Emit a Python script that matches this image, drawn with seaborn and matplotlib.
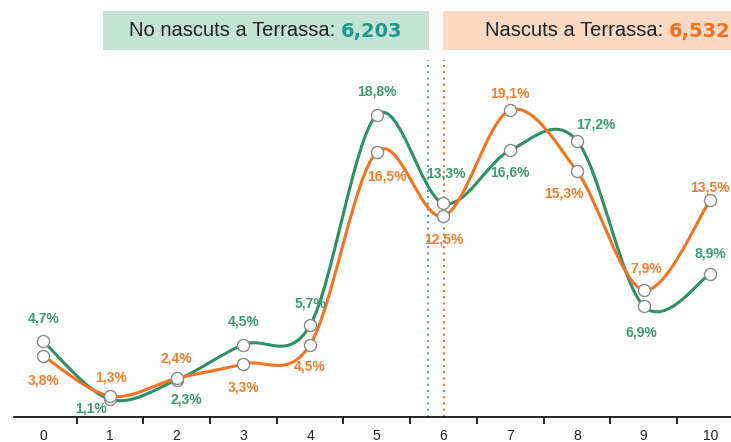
import numpy as np
import pandas as pd
import matplotlib
matplotlib.use("Agg")
import matplotlib.pyplot as plt
import seaborn as sns
from matplotlib.path import Path
from matplotlib.patches import PathPatch, Rectangle

# ---- data ----
categories = list(range(11))
tick_labels = [str(c) for c in categories]
no_nascuts = [4.7, 1.1, 2.3, 4.5, 5.7, 18.8, 13.3, 16.6, 17.2, 6.9, 8.9]
nascuts = [3.8, 1.3, 2.4, 3.3, 4.5, 16.5, 12.5, 19.1, 15.3, 7.9, 13.5]
labels_no = ["4,7%", "1,1%", "2,3%", "4,5%", "5,7%", "18,8%", "13,3%", "16,6%", "17,2%", "6,9%", "8,9%"]
labels_si = ["3,8%", "1,3%", "2,4%", "3,3%", "4,5%", "16,5%", "12,5%", "19,1%", "15,3%", "7,9%", "13,5%"]
mean_no = 6.203
mean_si = 6.532
title_no = "No nascuts a Terrassa: "
title_si = "Nascuts a Terrassa: "
value_no = "6,203"
value_si = "6,532"

# label offsets in pixels (dx, dy) relative to the points
off_no = [(0, 23), (-19, -9), (10, -19), (0, 23), (0, 22), (0, 23), (2, 30), (0, -22), (19, 16), (-2, -26), (0, 20)]
off_si = [(0, -25), (1, 19), (0, 20), (0, -24), (0, -22), (10, -25), (0, -23), (0, 17), (-13, -22), (3, 22), (0, 13)]

GREEN = "#2f8f65"
ORANGE = "#ef7424"
GREEN_T = "#3c9a70"
ORANGE_T = "#f07f30"

sns.set_theme(style="white")
plt.rcParams["font.family"] = ["Liberation Sans", "DejaVu Sans"]

df = pd.DataFrame({"cat": categories, "no": no_nascuts, "si": nascuts})

fig = plt.figure(figsize=(7.31, 4.42), dpi=100)
ax = fig.add_axes([0.019, 0.0566, 0.981, 0.807])


def smooth_path(xs, ys):
    xs = np.asarray(xs, float)
    ys = np.asarray(ys, float)
    n = len(xs)
    verts = [(xs[0], ys[0])]
    codes = [Path.MOVETO]
    for i in range(n - 1):
        i0 = max(i - 1, 0)
        i3 = min(i + 2, n - 1)
        c1 = (xs[i] + (xs[i + 1] - xs[i0]) / 6, ys[i] + (ys[i + 1] - ys[i0]) / 6)
        c2 = (xs[i + 1] - (xs[i3] - xs[i]) / 6, ys[i + 1] - (ys[i3] - ys[i]) / 6)
        verts += [c1, c2, (xs[i + 1], ys[i + 1])]
        codes += [Path.CURVE4] * 3
    return Path(verts, codes)


for col, color in [("no", GREEN), ("si", ORANGE)]:
    ax.add_patch(PathPatch(smooth_path(df["cat"], df[col]), facecolor="none",
                           edgecolor=color, lw=2.2, zorder=3, capstyle="round"))

for col in ["no", "si"]:
    sns.scatterplot(data=df, x="cat", y=col, ax=ax, s=75, color="white",
                    edgecolor="#8a8a8a", linewidth=1.0, zorder=4, legend=False)

for x, y, t, (dx, dy) in zip(categories, no_nascuts, labels_no, off_no):
    ax.annotate(t, (x, y), xytext=(dx, dy), textcoords="offset pixels",
                ha="center", va="center", fontsize=10, fontweight="bold",
                color=GREEN_T, zorder=5)
for x, y, t, (dx, dy) in zip(categories, nascuts, labels_si, off_si):
    ax.annotate(t, (x, y), xytext=(dx, dy), textcoords="offset pixels",
                ha="center", va="center", fontsize=10, fontweight="bold",
                color=ORANGE_T, zorder=5)

# mean markers (dotted vertical lines)
ax.axvline(mean_no - 0.43, color="#6aa88e", ls=(0, (1, 2)), lw=1.5, zorder=2)
ax.axvline(mean_si - 0.52, color=ORANGE, ls=(0, (1, 2)), lw=1.5, zorder=2)

# axes styling
for s in ["top", "right", "left"]:
    ax.spines[s].set_visible(False)
ax.spines["bottom"].set_color("black")
ax.spines["bottom"].set_linewidth(1.2)
ax.set_yticks([])
ax.set_xticks(categories)
ax.set_xticklabels(tick_labels, fontsize=10, color="#222222")
ax.set_xticks(np.arange(-0.5, 10.6, 1), minor=True)
ax.tick_params(axis="x", which="major", length=0, pad=8.5)
ax.tick_params(axis="x", which="minor", length=5, width=1.2, color="black", direction="out", bottom=True)
ax.set_xlabel("")
ax.set_ylabel("")
ax.set_xlim(-0.44, 10.31)
ax.set_ylim(0, 22.2)

# header boxes
fig.patches.append(Rectangle((103 / 731, 1 - 50 / 442), 326 / 731, 39 / 442,
                             transform=fig.transFigure, facecolor="#c4e4d8",
                             edgecolor="none", zorder=0))
fig.patches.append(Rectangle((443 / 731, 1 - 50 / 442), 330 / 731, 39 / 442,
                             transform=fig.transFigure, facecolor="#fcd9c2",
                             edgecolor="none", zorder=0))
ty = 1 - 31 / 442
t1 = fig.text(129 / 731, ty, title_no, fontsize=14.5, color="#222222", ha="left", va="center")
fig.canvas.draw()
bb = t1.get_window_extent()
fig.text(bb.x1 / 731, ty, value_no, fontsize=14, fontweight="bold", color="#1f9a8a",
         ha="left", va="center", family="DejaVu Sans")
t2 = fig.text(485 / 731, ty, title_si, fontsize=14.5, color="#222222", ha="left", va="center")
fig.canvas.draw()
bb2 = t2.get_window_extent()
fig.text(bb2.x1 / 731, ty, value_si, fontsize=14, fontweight="bold", color="#f07020",
         ha="left", va="center", family="DejaVu Sans")

fig.savefig("out.png", dpi=100)
